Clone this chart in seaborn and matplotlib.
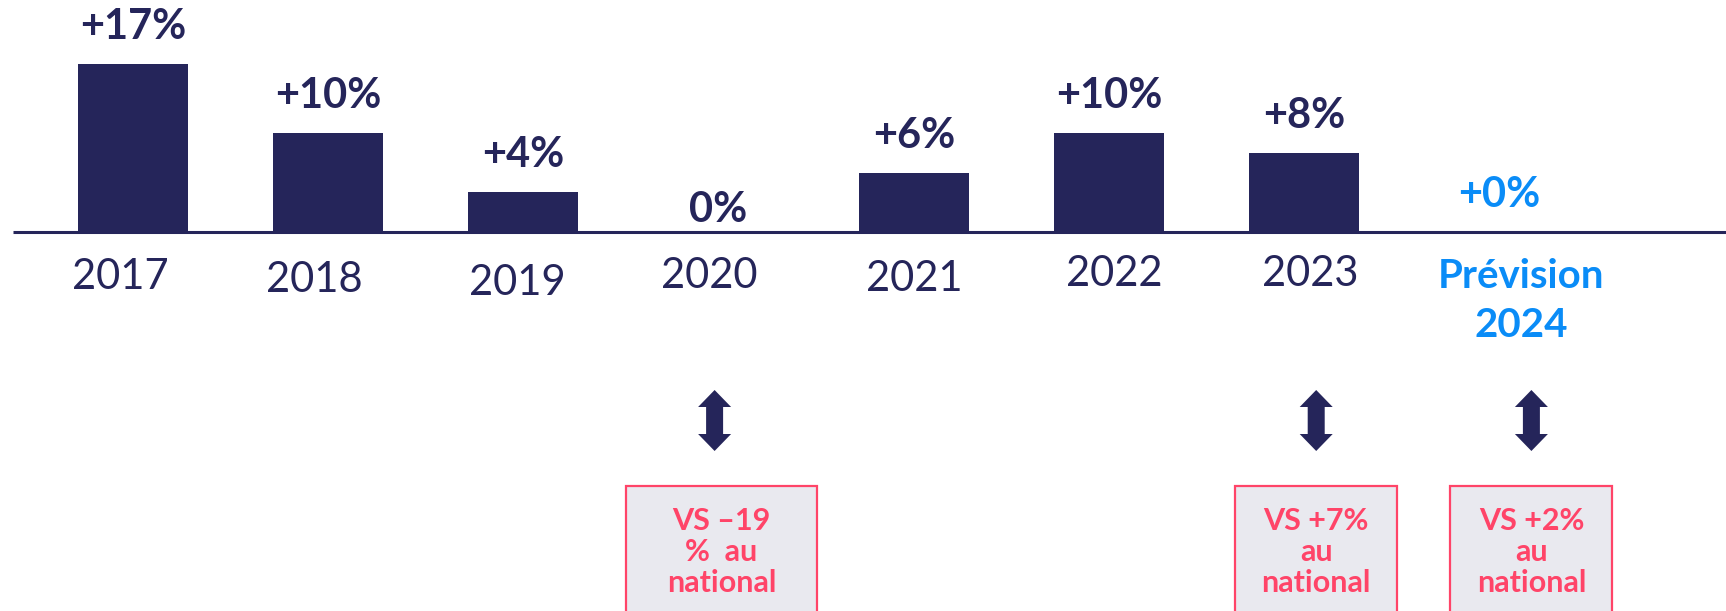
import numpy as np
import pandas as pd
import matplotlib
matplotlib.use('Agg')
import matplotlib.pyplot as plt
from matplotlib.patches import Polygon, Rectangle
import seaborn as sns

# Data
years = ["2017", "2018", "2019", "2020", "2021", "2022", "2023", "Prévision\n2024"]
growth = [17, 10, 4, 0, 6, 10, 8, 0]
value_labels = ["+17%", "+10%", "+4%", "0%", "+6%", "+10%", "+8%", "+0%"]
note_years = ["2020", "2023", "Prévision\n2024"]
note_texts = ["VS \u201319\n%  au\nnational", "VS +7%\nau\nnational", "VS +2%\nau\nnational"]

# Colours
NAVY = "#25255a"
BLUE = "#0a8cf7"
PINK = "#ff4468"
BOX_FILL = "#e9e9ef"

sns.set_theme(style="white")
plt.rcParams['font.family'] = ['Lato', 'DejaVu Sans']

W, H = 1726, 611
BASE = 232          # baseline pixel row
PX_X = 195.2        # pixels per category step
PX_Y = 9.9          # pixels per percent
X0 = 133            # pixel centre of the first category


def dx(px):
    return px / PX_X


def yv(py):
    # pixel row -> data value
    return (BASE - py) / PX_Y


fig = plt.figure(figsize=(W / 100, H / 100), dpi=100)
ax = fig.add_axes([0, 0, 1, 1])

df = pd.DataFrame({"year": years, "growth": growth})
sns.barplot(data=df, x="year", y="growth", order=years, color=NAVY,
            width=110 / PX_X, linewidth=0, saturation=1, ax=ax)

ax.set_xlim(-X0 / PX_X, (W - X0) / PX_X)
ax.set_ylim(yv(H), yv(0))
ax.axis("off")

# baseline
ax.plot([ax.get_xlim()[0] + dx(13), ax.get_xlim()[1]], [0, 0], color=NAVY, lw=2.2, zorder=3,
        solid_capstyle="butt")

# the year labels are a little hand-placed in the original slide
lab_dx = [-13, -14, -6, -9, 1, 5, 6, 22]
lab_row = [277, 280, 283, 276, 279, 274, 274, 301]

forecast = len(years) - 1
for i, (v, lab) in enumerate(zip(growth, value_labels)):
    col = BLUE if i == forecast else NAVY
    # the 0% label for 2020 sits closer to the axis
    lift = 22 if years[i] == "2020" else 37
    ax.text(i, v + lift / PX_Y, lab, ha="center", va="center", fontsize=30,
            fontweight="bold", color=col)
    if i == forecast:
        ax.text(i + dx(lab_dx[i]), yv(lab_row[i]), years[i], ha="center", va="center",
                fontsize=29, fontweight="bold", color=BLUE, linespacing=1.4)
    else:
        ax.text(i + dx(lab_dx[i]), yv(lab_row[i]), years[i], ha="center", va="center",
                fontsize=30, fontweight="normal", color=NAVY)

# arrows + comparison boxes
shift_px = [-4, 12, 32]
box_w = [191, 162, 162]
for k, (yr, txt) in enumerate(zip(note_years, note_texts)):
    cx = years.index(yr) + dx(shift_px[k])
    pts = [(0, 390), (16.5, 407), (8.5, 407), (8.5, 434), (16.5, 434), (0, 451),
           (-16.5, 434), (-8.5, 434), (-8.5, 407), (-16.5, 407)]
    ax.add_patch(Polygon([(cx + dx(px), yv(py)) for px, py in pts], closed=True,
                         facecolor=NAVY, edgecolor="none"))
    bx = cx + dx(7) if k == 0 else cx
    ax.add_patch(Rectangle((bx - dx(box_w[k] / 2), yv(650)), dx(box_w[k]), yv(486) - yv(650),
                           facecolor=BOX_FILL, edgecolor=PINK, lw=1.6))
    ax.text(bx, yv(552), txt, ha="center", va="center", fontsize=22, fontweight="bold",
            color=PINK, linespacing=1.15)

fig.savefig("out.png", dpi=100)
